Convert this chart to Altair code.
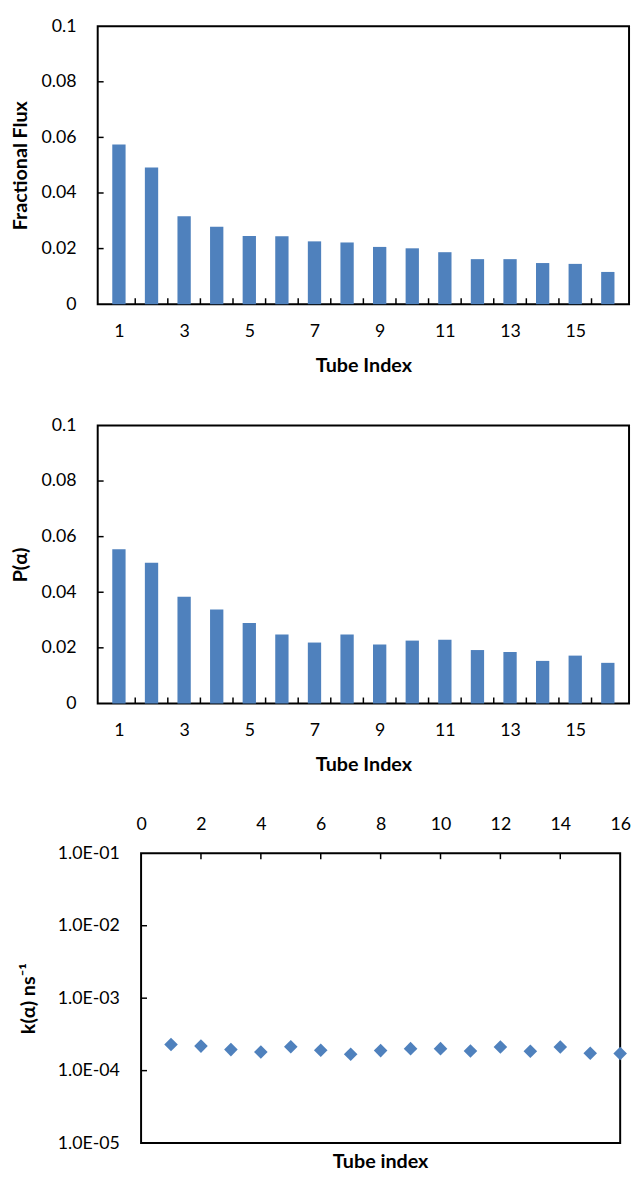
import altair as alt
import pandas as pd

# ---------------- data ----------------
tube = list(range(1, 17))
flux = [0.0574, 0.0492, 0.0316, 0.0279, 0.0245, 0.0244, 0.0226, 0.0222,
        0.0206, 0.0201, 0.0187, 0.0162, 0.0162, 0.0148, 0.0145, 0.0116]
p_alpha = [0.0555, 0.0506, 0.0384, 0.0338, 0.0289, 0.0248, 0.0219, 0.0248,
           0.0212, 0.0226, 0.0229, 0.0192, 0.0185, 0.0153, 0.0172, 0.0146]
k_alpha = [2.30e-4, 2.18e-4, 1.95e-4, 1.81e-4, 2.14e-4, 1.91e-4, 1.68e-4, 1.89e-4,
           2.01e-4, 2.01e-4, 1.87e-4, 2.12e-4, 1.85e-4, 2.12e-4, 1.74e-4, 1.72e-4]
bar_xlabels = [1, 3, 5, 7, 9, 11, 13, 15]
bar_yticks = [0, 0.02, 0.04, 0.06, 0.08, 0.1]
bar_boundaries = [1.5, 2.5, 3.5, 4.5, 5.5, 6.5, 7.5, 8.5, 9.5, 10.5, 11.5, 12.5, 13.5, 14.5, 15.5]
k_xticks = [0, 2, 4, 6, 8, 10, 12, 14, 16]
k_yticks = [1e-5, 1e-4, 1e-3, 1e-2, 1e-1]

BLUE = "#4F81BD"
FONT = "Lato"
LBL = 18
TTL = 20

W, H = 539, 282
KW, KH = 486, 294


def bar_panel(values, ytitle):
    df = pd.DataFrame({"tube": tube, "val": values})
    xsc = alt.Scale(domain=[0.5, 16.5], nice=False, zero=False)
    ysc = alt.Scale(domain=[0, 0.1], nice=False)
    bars = alt.Chart(df).mark_bar(color=BLUE, size=13.5).encode(
        x=alt.X("tube:Q", scale=xsc,
                axis=alt.Axis(values=bar_xlabels, title="Tube Index", ticks=False, tickSize=0,
                              domain=False, grid=False, labelPadding=19, labelFontSize=LBL,
                              labelFont=FONT, labelColor="black", labelFlush=False,
                              titleFont=FONT, titleFontSize=TTL, titleFontWeight="bold",
                              titleColor="black", titleY=62, titleBaseline="middle")),
        y=alt.Y("val:Q", scale=ysc,
                axis=alt.Axis(values=bar_yticks, format=".2~f", title=ytitle, ticks=False,
                              tickSize=0, domain=False, grid=False, labelPadding=22,
                              labelFontSize=LBL, labelFont=FONT, labelColor="black",
                              titleFont=FONT, titleFontSize=TTL, titleFontWeight="bold",
                              titleColor="black", titleX=-78, titleY=H / 2,
                              titleBaseline="middle")),
    )
    yt = alt.Chart(pd.DataFrame({"val": bar_yticks[1:-1]})).mark_rule(
        color="black", strokeWidth=1.5).encode(
        y=alt.Y("val:Q", scale=ysc), x=alt.value(0), x2=alt.value(6))
    xt = alt.Chart(pd.DataFrame({"tube": bar_boundaries})).mark_rule(
        color="black", strokeWidth=1.5).encode(
        x=alt.X("tube:Q", scale=xsc), y=alt.value(H), y2=alt.value(H - 6))
    return alt.layer(bars, yt, xt).properties(width=W, height=H)


top = bar_panel(flux, "Fractional Flux")
mid = bar_panel(p_alpha, "P(α)")

kdf = pd.DataFrame({"tube": tube, "k": k_alpha})
kx = alt.Scale(domain=[0, 16], nice=False, zero=False)
ky = alt.Scale(type="log", domain=[1e-5, 1e-1], nice=False)
pts = alt.Chart(kdf).mark_point(shape="diamond", filled=True, size=190, color=BLUE,
                                opacity=1).encode(
    x=alt.X("tube:Q", scale=kx,
            axis=alt.Axis(orient="top", values=k_xticks, title=None, ticks=False, tickSize=0,
                          domain=False, grid=False, labelPadding=20, labelFontSize=LBL,
                          labelFont=FONT, labelColor="black", labelFlush=False)),
    y=alt.Y("k:Q", scale=ky,
            axis=alt.Axis(values=k_yticks,
                          labelExpr="'1.0E-0' + abs(round(log(datum.value) / LN10))",
                          title="k(α) ns⁻¹", ticks=False, tickSize=0, domain=False,
                          grid=False, labelPadding=22, labelFontSize=LBL, labelFont=FONT,
                          labelColor="black", titleFont=FONT, titleFontSize=TTL,
                          titleFontWeight="bold", titleColor="black", titleX=-114,
                          titleY=KH / 2, titleBaseline="middle")),
)
kyt = alt.Chart(pd.DataFrame({"k": k_yticks[1:-1]})).mark_rule(
    color="black", strokeWidth=1.5).encode(
    y=alt.Y("k:Q", scale=ky), x=alt.value(0), x2=alt.value(6))
kxt = alt.Chart(pd.DataFrame({"tube": k_xticks[1:-1]})).mark_rule(
    color="black", strokeWidth=1.5).encode(
    x=alt.X("tube:Q", scale=kx), y=alt.value(0), y2=alt.value(6))
bottom = alt.layer(pts, kyt, kxt).properties(
    width=KW, height=KH,
    title=alt.TitleParams("Tube index", orient="bottom", anchor="middle", offset=0,
                          fontSize=TTL, font=FONT, fontWeight="bold", color="black"))

spacer = alt.Chart(pd.DataFrame({"s": [0]})).mark_point(opacity=0).encode(
    x=alt.value(0), y=alt.value(0)).properties(
    width=44, height=KH, view=alt.ViewBackground(strokeOpacity=0))

bottom_row = alt.hconcat(spacer, bottom, spacing=0, bounds="flush")

chart = alt.vconcat(
    top, mid, bottom_row, spacing=40,
    padding={"left": 2, "top": 0, "right": 0, "bottom": 0},
    background="white",
).configure_view(stroke="black", strokeWidth=2)

chart.save("out.html", embed_options={"renderer": "svg", "actions": False})
